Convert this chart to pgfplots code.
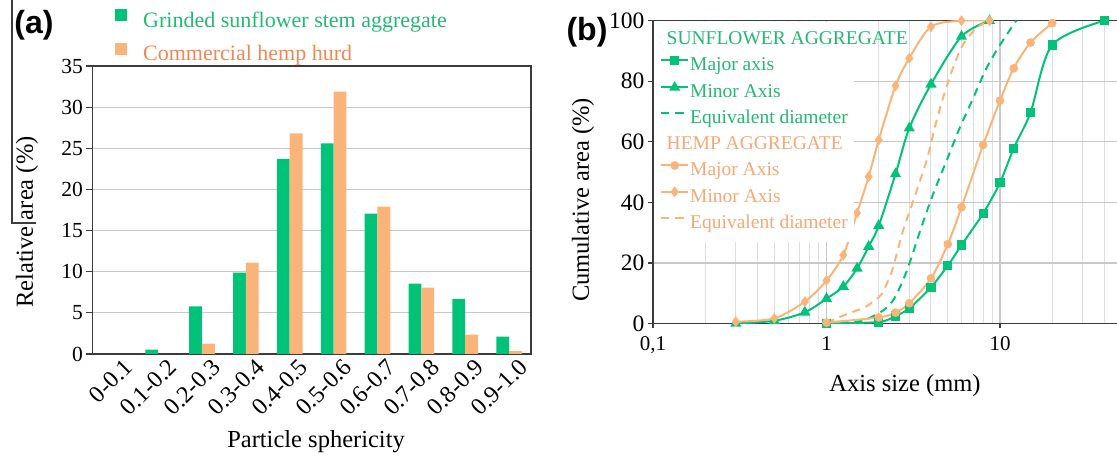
\documentclass[border=0pt]{standalone}
\usepackage{pgfplots}
\usepackage{pgfplotstable}
\pgfplotsset{compat=1.18}
\usepackage{fontspec}
\setmainfont{Liberation Serif}
\newfontfamily\labfont{Liberation Sans}
\definecolor{sfgreen}{RGB}{0,194,120}
\definecolor{hporange}{RGB}{249,180,122}
\definecolor{sftext}{RGB}{35,185,115}
\definecolor{hptext}{RGB}{242,135,85}
\definecolor{hptextb}{RGB}{246,168,118}
\definecolor{axgray}{RGB}{60,60,60}
\definecolor{gridgray}{RGB}{200,200,200}
\definecolor{minorgray}{RGB}{222,222,222}

\pgfplotstableread{
idx green orange
0 0 0
1 0.53 0
2 5.8 1.26
3 9.9 11.1
4 23.7 26.8
5 25.6 31.9
6 17.05 17.9
7 8.55 8.06
8 6.7 2.35
9 2.1 0.36
}\sphericity

\pgfplotstableread{
x y
1 0
2 0.5
2.5 2.5
3 5
4 12
5 19.1
6 25.9
8 36.4
10 46.5
12 57.9
15 69.7
20 92
40 100
}\sfmajor

\pgfplotstableread{
x y
0.3 0
0.5 0.9
0.75 3.7
1 8.2
1.25 12.2
1.5 18.2
1.75 25.4
2 32.3
2.5 49.4
3 64.5
4 79
6 94.8
8.7 100
}\sfminor

\pgfplotstableread{
x y
1 0
1.5 0.6
1.8 2
2.2 5
2.5 9
2.94 18.2
3.45 30.3
4.1 42.5
4.9 53.5
5.85 64.5
7 74.4
8.35 84.3
10 92
12.4 100
}\sfequiv

\pgfplotstableread{
x y
1 0.3
2 2
2.5 3.6
3 6.7
4 14.9
5 26.2
6 38.4
8 59
10 73.6
12 84.3
15 92.8
20 99.2
}\hpmajor

\pgfplotstableread{
x y
0.3 0.6
0.5 1.7
0.75 7.2
1 14.2
1.25 22.6
1.5 36.5
1.75 48.5
2 60.6
2.5 78.5
3 87.6
4 98
6 100
8.7 100
}\hpminor

\pgfplotstableread{
x y
1 0.3
1.35 3.4
1.69 5.6
2.06 9.4
2.25 13.8
2.41 18.2
2.75 30.3
3.14 40
3.76 53.5
4.2 64.5
4.69 74.4
5.35 84.3
6.11 92
7.3 97.5
8.7 100
}\hpequiv

\begin{document}
\begin{tikzpicture}
% ---------------- (a) ----------------
\begin{axis}[
  at={(92.3bp,104bp)}, anchor=south west,
  width=438.7bp, height=288bp, scale only axis,
  ybar=0pt, bar width=12.8bp,
  xmin=-0.5, xmax=9.5, ymin=0, ymax=35,
  xtick={0,...,9},
  xticklabels={0-0.1,0.1-0.2,0.2-0.3,0.3-0.4,0.4-0.5,0.5-0.6,0.6-0.7,0.7-0.8,0.8-0.9,0.9-1.0},
  xticklabel style={rotate=45, anchor=north east, font=\fontsize{24bp}{24bp}\selectfont, inner sep=1bp, xshift=9bp, yshift=-3bp},
  ytick={0,5,...,35},
  yticklabel style={font=\fontsize{21.5bp}{21.5bp}\selectfont},
  /pgf/number format/assume math mode=true,
  ymajorgrids, grid style={gridgray, line width=1.2bp},
  axis line style={axgray, line width=1.3bp},
  tick style={axgray, line width=1.2bp},
  xtick style={draw=none},
  ytick pos=left, tick align=outside, major tick length=6bp,
  ylabel={Relative area (\%)}, xlabel={Particle sphericity},
  every axis y label/.style={at={(axis description cs:-0.1488,0.458)}, rotate=90, anchor=center},
  every axis x label/.style={at={(axis description cs:0.51,-0.326)}, anchor=base},
  label style={font=\fontsize{24.5bp}{24.5bp}\selectfont},
  legend style={at={(axis description cs:0.0517,1.197)}, anchor=north west, draw=none, fill=none,
    inner sep=0pt, font=\fontsize{22bp}{22bp}\selectfont, row sep=10bp, column sep=16bp,
    nodes={inner sep=0pt, text height=15bp, text depth=5.5bp}},
  legend cell align=left,
  legend image code/.code={\fill[#1,draw=none] (0bp,1bp) rectangle (12bp,13bp);},
]
\addplot[fill=sfgreen, draw=none] table[x=idx, y=green] {\sphericity};
\addlegendentry{\textcolor{sftext}{Grinded sunflower stem aggregate}}
\addplot[fill=hporange, draw=none] table[x=idx, y=orange] {\sphericity};
\addlegendentry{\textcolor{hptext}{Commercial hemp hurd}}
\end{axis}

% ---------------- (b) ----------------
\begin{axis}[
  at={(653bp,134.5bp)}, anchor=south west,
  width=463.6bp, height=302.8bp, scale only axis,
  xmode=log, log basis x=10,
  xmin=0.1, xmax=47, ymin=0, ymax=100,
  xtick={0.1,1,10}, xticklabels={{0,1},1,10},
  minor xtick={0.2,0.3,0.4,0.5,0.6,0.7,0.8,0.9,2,3,4,5,6,7,8,9,20,30,40},
  ytick={0,20,40,60,80,100},
  axis x line=box, axis y line=left,
  x axis line style={-}, y axis line style={-},
  axis line style={axgray, line width=1.3bp},
  xmajorgrids, xminorgrids, ymajorgrids,
  major grid style={gridgray, line width=1.2bp},
  minor grid style={minorgray, line width=1bp},
  minor tick length=0pt,
  tick style={axgray, line width=1.2bp},
  tick align=outside, major tick length=5bp,
  xtick pos=bottom, ytick pos=left,
  xticklabel style={font=\fontsize{21bp}{21bp}\selectfont, yshift=-5bp},
  yticklabel style={font=\fontsize{23.5bp}{23.5bp}\selectfont},
  /pgf/number format/assume math mode=true,
  ylabel={Cumulative area (\%)}, xlabel={Axis size (mm)},
  every axis y label/.style={at={(axis description cs:-0.151,0.408)}, rotate=90, anchor=center},
  every axis x label/.style={at={(axis description cs:0.5436,-0.225)}, anchor=base},
  label style={font=\fontsize{24.5bp}{24.5bp}\selectfont},
  legend style={at={(axis description cs:0,1)}, anchor=north west, xshift=1bp, yshift=-1bp,
    fill=white, draw=none, inner xsep=6bp, inner ysep=9bp,
    font=\fontsize{19.5bp}{19.5bp}\selectfont, row sep=7bp, column sep=1bp,
    nodes={inner sep=0pt, text height=14bp, text depth=5bp}},
  legend cell align=left,
  legend image code/.code={\draw[mark repeat=2, mark phase=2, #1] plot coordinates {(0bp,6bp) (13.5bp,6bp) (27bp,6bp)};},
]
\addlegendimage{empty legend}
\addlegendentry{\makebox[0pt][l]{\hspace{-24bp}\textcolor{sftext}{SUNFLOWER AGGREGATE}}}
\addplot[sfgreen, line width=2bp, smooth, mark=square*, mark size=3.6bp, mark options={solid}] table {\sfmajor};
\addlegendentry{\textcolor{sftext}{Major axis}}
\addplot[sfgreen, line width=2bp, smooth, mark=triangle*, mark size=4.5bp, mark options={solid}] table {\sfminor};
\addlegendentry{\textcolor{sftext}{Minor Axis}}
\addplot[sfgreen, line width=2bp, smooth, dash pattern=on 8bp off 6bp] table {\sfequiv};
\addlegendentry{\textcolor{sftext}{Equivalent diameter}}
\addlegendimage{empty legend}
\addlegendentry{\makebox[0pt][l]{\hspace{-24bp}\textcolor{hptextb}{HEMP AGGREGATE}}}
\addplot[hporange, line width=2bp, smooth, mark=*, mark size=3.3bp, mark options={solid}] table {\hpmajor};
\addlegendentry{\textcolor{hptextb}{Major Axis}}
\addplot[hporange, line width=2bp, smooth, mark=diamond*, mark size=3.8bp, mark options={solid}] table {\hpminor};
\addlegendentry{\textcolor{hptextb}{Minor Axis}}
\addplot[hporange, line width=2bp, smooth, dash pattern=on 8bp off 6bp] table {\hpequiv};
\addlegendentry{\textcolor{hptextb}{Equivalent diameter}}
\end{axis}

% panel letters and frame fragment
\node[font=\labfont\bfseries\fontsize{32bp}{32bp}\selectfont] at (34bp,433bp) {(a)};
\node[font=\labfont\bfseries\fontsize{32bp}{32bp}\selectfont] at (587bp,426bp) {(b)};
\draw[axgray, line width=1.2bp] (12bp,458bp) -- (12bp,235bp) -- (36bp,235bp);

\pgfresetboundingbox
\useasboundingbox (0,0) rectangle (1117bp,458bp);
\end{tikzpicture}
\end{document}
